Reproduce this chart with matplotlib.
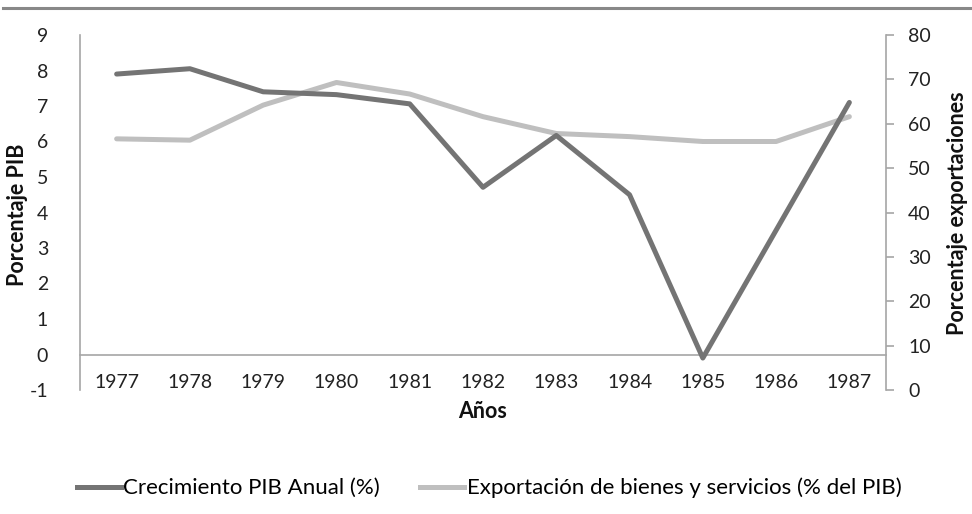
import matplotlib
matplotlib.use("Agg")
import matplotlib.pyplot as plt
from matplotlib.lines import Line2D

plt.rcParams['font.family'] = ['Lato', 'DejaVu Sans']
plt.rcParams['axes.unicode_minus'] = False

years = ['1977', '1978', '1979', '1980', '1981', '1982', '1983', '1984', '1985', '1986', '1987']
pib_growth = [7.9, 8.05, 7.4, 7.32, 7.06, 4.71, 6.17, 4.5, -0.1, 3.5, 7.1]
exports_pct = [56.6, 56.3, 64.2, 69.3, 66.7, 61.6, 57.8, 57.1, 56.0, 56.0, 61.6]

left_ticks = list(range(-1, 10))
right_ticks = list(range(0, 81, 10))

W, H = 972, 514
fig = plt.figure(figsize=(W / 100, H / 100), dpi=100)
ax = fig.add_axes([80 / W, 1 - 390 / H, (886 - 80) / W, (390 - 35) / H])
ax2 = ax.twinx()

axis_color = '#a6a6a6'
dark = '#747474'
light = '#bfbfbf'
fs = 14

x = list(range(len(years)))
ax.plot(x, pib_growth, color=dark, lw=3.6, solid_capstyle='round', solid_joinstyle='round', zorder=3)
ax2.plot(x, exports_pct, color=light, lw=3.6, solid_capstyle='round', solid_joinstyle='round', zorder=2)
ax.set_zorder(ax2.get_zorder() + 1)
ax.patch.set_visible(False)

ax.set_xlim(-0.5, len(years) - 0.5)
ax.set_ylim(-1, 9)
ax2.set_ylim(0, 80)
ax.set_yticks(left_ticks)
ax2.set_yticks(right_ticks)
ax.set_xticks(x)
ax.set_xticklabels(years)

for a in (ax, ax2):
    for s in a.spines.values():
        s.set_visible(False)
ax.spines['left'].set_visible(True)
ax.spines['left'].set_color(axis_color)
ax.spines['left'].set_linewidth(1.2)
ax.spines['bottom'].set_visible(True)
ax.spines['bottom'].set_position(('data', 0))
ax.spines['bottom'].set_color(axis_color)
ax.spines['bottom'].set_linewidth(1.2)
ax2.spines['right'].set_visible(True)
ax2.spines['right'].set_color(axis_color)
ax2.spines['right'].set_linewidth(1.2)

ax.tick_params(axis='y', length=0, pad=23, labelsize=fs, labelcolor='#222222')
ax.tick_params(axis='x', length=0, pad=14, labelsize=fs, labelcolor='#222222')
ax2.tick_params(axis='y', length=6, width=1.2, color=axis_color, pad=10, labelsize=fs, labelcolor='#222222')

tfs = 15.5
fig.text(18 / W, 1 - 215 / H, 'Porcentaje PIB', rotation=90, ha='center', va='center',
         fontsize=tfs, fontweight='bold', color='#111111')
fig.text(957 / W, 1 - 213 / H, 'Porcentaje exportaciones', rotation=90, ha='center', va='center',
         fontsize=tfs, fontweight='bold', color='#111111')
fig.text(483 / W, 1 - 412 / H, 'Años', ha='center', va='center',
         fontsize=tfs, fontweight='bold', color='#111111')

fig.add_artist(Line2D([3 / W, 1.0], [1 - 8 / H, 1 - 8 / H], transform=fig.transFigure,
                      color='#888888', lw=2.2))

handles = [Line2D([], [], color=dark, lw=3.6), Line2D([], [], color=light, lw=3.6)]
labels = ['Crecimiento PIB Anual (%)', 'Exportación de bienes y servicios (% del PIB)']
fig.legend(handles, labels, loc='center', bbox_to_anchor=(489 / W, 1 - 488 / H), ncol=2,
           frameon=False, fontsize=16, handlelength=2.0, handletextpad=0.1, columnspacing=1.8)

fig.savefig('out.png', dpi=100)
